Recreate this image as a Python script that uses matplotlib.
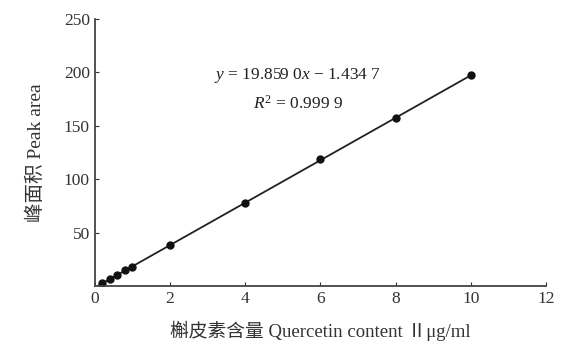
import matplotlib
matplotlib.use('Agg')
import matplotlib.pyplot as plt
import numpy as np

plt.rcParams['font.family'] = ['Liberation Serif', 'Noto Sans CJK SC']
plt.rcParams['mathtext.fontset'] = 'custom'
plt.rcParams['mathtext.it'] = 'Liberation Serif:italic'
plt.rcParams['mathtext.rm'] = 'Liberation Serif'

conc = [0.2, 0.4, 0.6, 0.8, 1.0, 2, 4, 6, 8, 10]
area = [2.6, 6.5, 10.3, 14.6, 18.2, 38.5, 77.5, 119.2, 157.0, 197.5]
slope = 19.8590
intercept = -1.4347

fig = plt.figure(figsize=(5.61, 3.51), dpi=100)
ax = fig.add_axes([0.169, 0.185, 0.804, 0.761])

xl = np.array([0.1, 10])
ax.plot(xl, slope * xl + intercept, color='#222222', lw=1.3)
ax.plot(conc, area, 'o', color='#111111', ms=5)

ax.set_xlim(0, 12)
ax.set_ylim(0, 250)
ax.set_xticks(range(0, 13, 2))
ax.set_yticks([50, 100, 150, 200, 250])
ax.tick_params(direction='in', length=3, labelsize=12.5, colors='#333333')
for s in ['top', 'right']:
    ax.spines[s].set_visible(False)
for s in ['left', 'bottom']:
    ax.spines[s].set_color('#444444')
    ax.spines[s].set_linewidth(1.3)

ax.set_xlabel('槲皮素含量 Quercetin content Ⅱμg/ml', fontsize=13.5, color='#333333', labelpad=10)
ax.set_ylabel('峰面积 Peak area', fontsize=14, color='#333333', labelpad=14)

ax.text(0.45, 0.775, r'$y$ = 19.859 0$x$ − 1.434 7', transform=ax.transAxes,
        fontsize=12.5, color='#222222', ha='center')
ax.text(0.45, 0.665, r'$R^2$ = 0.999 9', transform=ax.transAxes,
        fontsize=12.5, color='#222222', ha='center')

fig.savefig('out.png', dpi=100)
